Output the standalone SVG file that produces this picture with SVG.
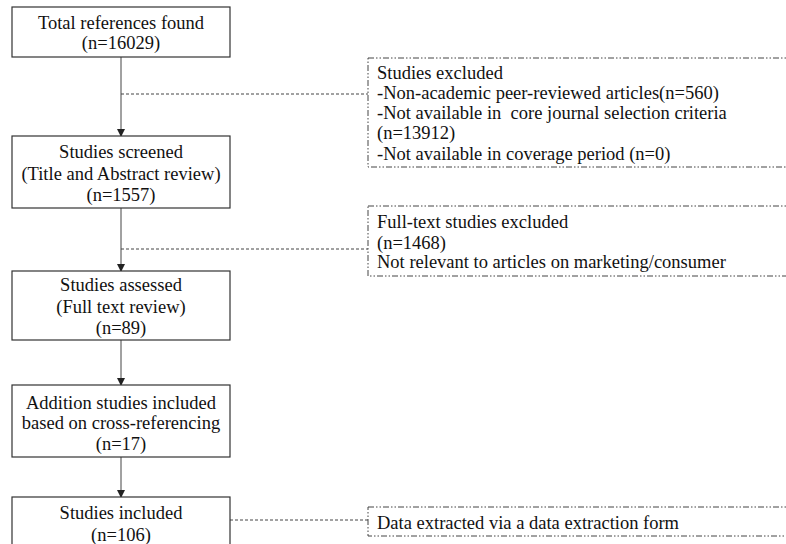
<svg xmlns="http://www.w3.org/2000/svg" width="786" height="544" viewBox="0 0 786 544">
<style>
.box{fill:#fff;stroke:#333;stroke-width:1.2}
.ex{fill:none;stroke:#444;stroke-width:1;stroke-dasharray:6 2 1.5 2 1.5 2}
.t{font-family:"Liberation Serif","Times New Roman",serif;font-size:18.5px;fill:#111}
.c{text-anchor:middle}
.ln{stroke:#444;stroke-width:1;fill:none}
.dl{stroke:#444;stroke-width:1;fill:none;stroke-dasharray:3 2}
</style>
<defs>
<marker id="ah" markerWidth="8" markerHeight="8" refX="7" refY="4" orient="auto" markerUnits="userSpaceOnUse">
<path d="M0,0 L8,4 L0,8 Z" fill="#222"/>
</marker>
</defs>
<g id="connectors">
<line class="ln" x1="121" y1="57" x2="121" y2="136" marker-end="url(#ah)"/>
<line class="ln" x1="121" y1="208" x2="121" y2="271" marker-end="url(#ah)"/>
<line class="ln" x1="121" y1="340" x2="121" y2="385" marker-end="url(#ah)"/>
<line class="ln" x1="121" y1="457" x2="121" y2="497" marker-end="url(#ah)"/>
<line class="dl" x1="121" y1="94" x2="368" y2="94"/>
<line class="dl" x1="121" y1="249" x2="368" y2="249"/>
<line class="dl" x1="230" y1="520" x2="368" y2="520"/>
</g>
<g id="n1">
<rect class="box" x="12" y="7" width="218" height="50"/>
<text class="t c" x="121" y="29">Total references found</text>
<text class="t c" x="121" y="49">(n=16029)</text>
</g>
<g id="n2">
<rect class="box" x="12" y="136" width="218" height="72"/>
<text class="t c" x="121" y="158">Studies screened</text>
<text class="t c" x="121" y="180">(Title and Abstract review)</text>
<text class="t c" x="121" y="201">(n=1557)</text>
</g>
<g id="n3">
<rect class="box" x="12" y="271" width="218" height="69"/>
<text class="t c" x="121" y="291">Studies assessed</text>
<text class="t c" x="121" y="313">(Full text review)</text>
<text class="t c" x="121" y="334">(n=89)</text>
</g>
<g id="n4">
<rect class="box" x="12" y="385" width="218" height="72"/>
<text class="t c" x="121" y="409">Addition studies included</text>
<text class="t c" x="121" y="429">based on cross-referencing</text>
<text class="t c" x="121" y="450">(n=17)</text>
</g>
<g id="n5">
<rect class="box" x="12" y="497" width="218" height="60"/>
<text class="t c" x="121" y="519">Studies included</text>
<text class="t c" x="121" y="541">(n=106)</text>
</g>
<g id="e1">
<rect class="ex" x="368" y="58" width="430" height="109"/>
<text class="t" x="377" y="79">Studies excluded</text>
<text class="t" x="377" y="99">-Non-academic peer-reviewed articles(n=560)</text>
<text class="t" x="377" y="119" xml:space="preserve">-Not available in  core journal selection criteria</text>
<text class="t" x="377" y="139">(n=13912)</text>
<text class="t" x="377" y="160">-Not available in coverage period (n=0)</text>
</g>
<g id="e2">
<rect class="ex" x="368" y="206" width="430" height="70"/>
<text class="t" x="377" y="228">Full-text studies excluded</text>
<text class="t" x="377" y="249">(n=1468)</text>
<text class="t" x="377" y="268">Not relevant to articles on marketing/consumer</text>
</g>
<g id="e3">
<rect class="ex" x="368" y="507" width="430" height="29"/>
<text class="t" x="377" y="529">Data extracted via a data extraction form</text>
</g>
</svg>
